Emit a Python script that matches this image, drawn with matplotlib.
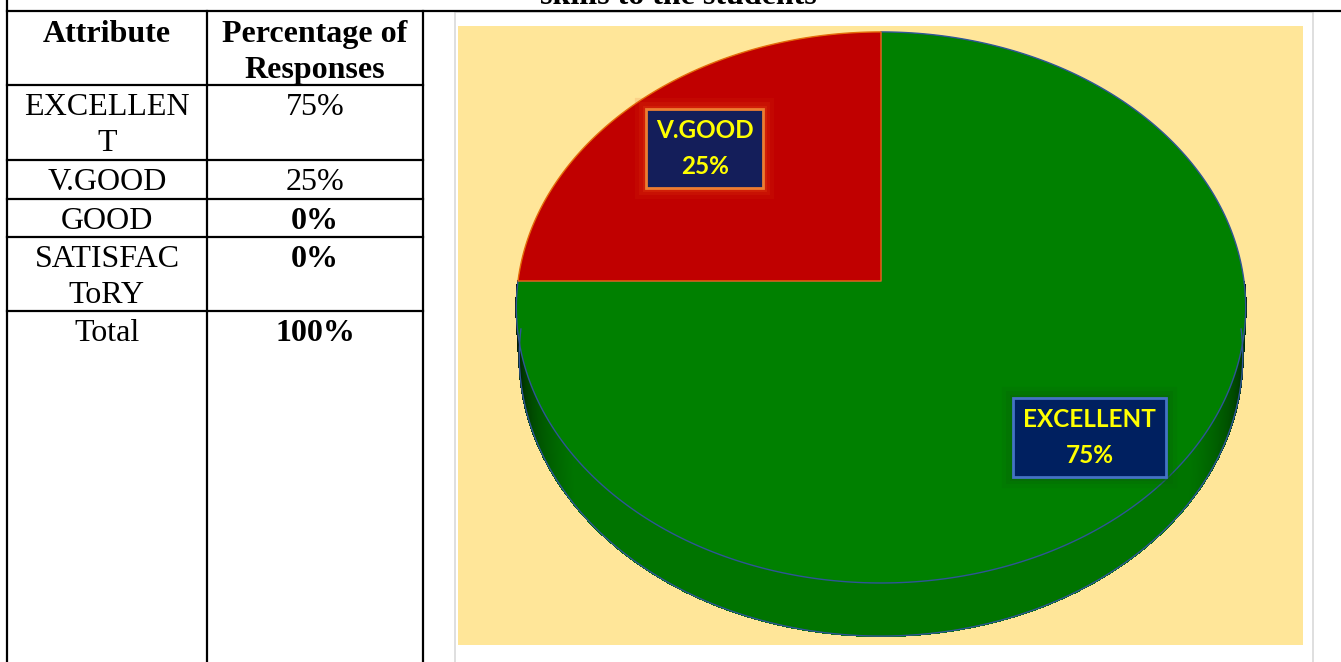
import numpy as np
import matplotlib.pyplot as plt
from matplotlib.patches import Polygon, Rectangle
import matplotlib.patheffects as pe

# table contents
attributes = ["EXCELLEN\nT", "V.GOOD", "GOOD", "SATISFAC\nToRY", "Total"]
percent = [75, 25, 0, 0, 100]
percent_bold = [False, False, True, True, True]

# pie contents
pie_labels = ["EXCELLENT", "V.GOOD", "GOOD", "SATISFACTORY"]
pie_values = [75, 25, 0, 0]
pie_colors = ["#008000", "#C00000", "#7F7F7F", "#FFC000"]
pie_edges = ["#2F5597", "#E46C0A", "#7F7F7F", "#FFC000"]
box_faces = ["#002060", "#141E5A", "#002060", "#002060"]
box_edges = ["#4472C4", "#ED7D31", "#4472C4", "#4472C4"]
glow_cols = ["#0B5E0B", "#E03A10", "#0B5E0B", "#0B5E0B"]
label_r = [0.77, 0.72, 0.75, 0.75]

W, H = 1341, 662
fig = plt.figure(figsize=(W / 100, H / 100), dpi=100)
ax = fig.add_axes([0, 0, 1, 1])
ax.set_xlim(0, W)
ax.set_ylim(H, 0)
ax.axis("off")

serif = "Liberation Serif"
fs = 23

# ---- table ----
col_x = [7, 207, 423]
row_y = [11, 85, 160, 199, 237, 311]
ax.plot([col_x[0], W], [row_y[0], row_y[0]], color="black", lw=1.6)
ax.plot([col_x[0], col_x[0]], [0, H], color="black", lw=1.6)
for x in col_x[1:]:
    ax.plot([x, x], [row_y[0], H], color="black", lw=1.6)
for y in row_y[1:]:
    ax.plot([col_x[0], col_x[-1]], [y, y], color="black", lw=1.6)

# partial title above the table (cut by the page edge in the original)
ax.text(678, 4, "skills to the students", family=serif, fontsize=fs,
        fontweight="bold", ha="center", va="baseline", clip_on=False)

c1 = (col_x[0] + col_x[1]) / 2
c2 = (col_x[1] + col_x[2]) / 2
line_step = 36
ax.text(c1, 42, "Attribute", family=serif, fontsize=fs, fontweight="bold",
        ha="center", va="baseline")
for i, ln in enumerate(["Percentage of", "Responses"]):
    ax.text(c2, 42 + i * line_step, ln, family=serif, fontsize=fs,
            fontweight="bold", ha="center", va="baseline")

row_tops = row_y[1:]
for top, name, val, bold in zip(row_tops, attributes, percent, percent_bold):
    for i, ln in enumerate(name.split("\n")):
        ax.text(c1, top + 30 + i * line_step, ln, family=serif, fontsize=fs,
                ha="center", va="baseline")
    ax.text(c2, top + 30, f"{val}%", family=serif, fontsize=fs,
            fontweight="bold" if bold else "normal", ha="center", va="baseline")

# ---- chart frame ----
ax.add_patch(Rectangle((455, 12), 858, 680, fc="white", ec="#D9D9D9", lw=1.2))
ax.add_patch(Rectangle((458, 26), 845, 619, fc="#FFE699", ec="none"))

# ---- 3D pie (simple perspective projection) ----
cx, cy = 881, 281
A, B, K, DEPTH = 363, 273, 0.096, 48
SHRINK = 0.992  # bottom rim a bit narrower (farther from the eye)


def project(phi, r=1.0, d=0.0):
    u, v = r * np.cos(phi), r * np.sin(phi)
    w = 1 + K * v
    a = A * (1 - (1 - SHRINK) * d)
    return cx + a * u / w, cy + (-B * v + DEPTH * d) / w


def shade(hex_col, f):
    rgb = np.array([int(hex_col[i:i + 2], 16) for i in (1, 3, 5)]) / 255
    return tuple(np.clip(rgb * f, 0, 1))


total = sum(pie_values)
bounds = []
cum = 0
for v in pie_values:
    a1 = np.deg2rad(90 - cum / total * 360)
    cum += v
    a2 = np.deg2rad(90 - cum / total * 360)
    bounds.append((a1, a2))

# side walls (front half only)
for (a1, a2), col in zip(bounds, pie_colors):
    if a1 == a2:
        continue
    phis = np.linspace(a1, a2, max(int(abs(a1 - a2) / np.deg2rad(0.4)), 2))
    for p0, p1 in zip(phis[:-1], phis[1:]):
        if np.sin((p0 + p1) / 2) >= 0:
            continue
        s = -np.sin((p0 + p1) / 2)
        f = 0.05 + 0.86 * min(1.0, (s / 0.6) ** 0.9)
        x0t, y0t = project(p0)
        x1t, y1t = project(p1)
        x0b, y0b = project(p0, d=1)
        x1b, y1b = project(p1, d=1)
        c = shade(col, f)
        ax.add_patch(Polygon([(x0t, y0t), (x1t, y1t), (x1b, y1b), (x0b, y0b)],
                             closed=True, fc=c, ec=c, lw=0.8, antialiased=False))

# bottom outline of side
phi_front = np.linspace(np.pi, 2 * np.pi, 300)
bx, by = project(phi_front, d=1)
ax.plot(bx, by, color="#2F5597", lw=1.0)

# top faces
for (a1, a2), col, ec in zip(bounds, pie_colors, pie_edges):
    if a1 == a2:
        continue
    phis = np.linspace(a1, a2, 300)
    px, py = project(phis)
    pts = [(cx, cy)] + list(zip(px, py))
    ax.add_patch(Polygon(pts, closed=True, fc=col, ec=ec, lw=1.0,
                         joinstyle="round"))

# data labels
for (a1, a2), name, v, fc, ec, gc, r in zip(bounds, pie_labels, pie_values,
                                            box_faces, box_edges, glow_cols,
                                            label_r):
    if v == 0:
        continue
    mid = (a1 + a2) / 2
    lx, ly = project(mid, r=r)
    t = ax.text(lx, ly, f"{name}\n{v}%", family="Lato", fontweight="bold",
                fontsize=17.5, color="#FFFF00", ha="center", va="center",
                linespacing=1.7,
                bbox=dict(boxstyle="square,pad=0.4", fc=fc, ec=ec, lw=2))
    t.get_bbox_patch().set_path_effects([
        pe.Stroke(linewidth=16, foreground=gc, alpha=0.12),
        pe.Stroke(linewidth=10, foreground=gc, alpha=0.2),
        pe.Stroke(linewidth=5, foreground=gc, alpha=0.35),
        pe.Normal(),
    ])

fig.savefig("out.png", dpi=100)
